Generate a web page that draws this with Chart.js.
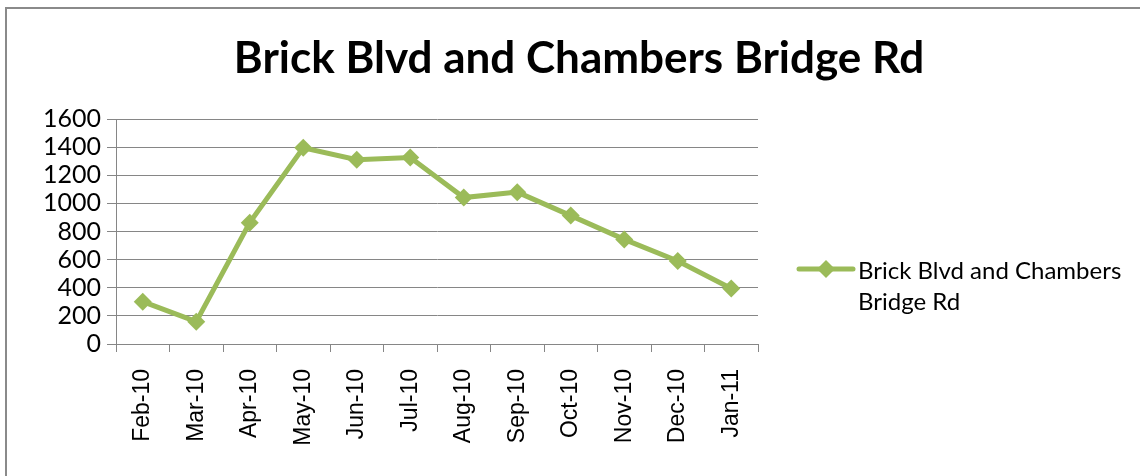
<!DOCTYPE html>
<html>
<head>
<meta charset="utf-8">
<script src="https://cdn.jsdelivr.net/npm/chart.js@4"></script>
<style>
  html, body { margin: 0; padding: 0; background: #fff; overflow: hidden; }
  #wrap { position: relative; width: 1140px; height: 476px; }
  #frame { position: absolute; left: 5px; top: 7px; width: 1200px; height: 520px;
           border-left: 2px solid #8a8a8a; border-top: 2px solid #8a8a8a; }
  canvas { position: absolute; left: 0; top: 0; }
</style>
</head>
<body>
<div id="wrap">
  <div id="frame"></div>
  <canvas id="chart" width="1140" height="476"></canvas>
</div>
<script>
var chartTitle = 'Brick Blvd and Chambers Bridge Rd';
var seriesName = 'Brick Blvd and Chambers Bridge Rd';
var months = ['Feb-10', 'Mar-10', 'Apr-10', 'May-10', 'Jun-10', 'Jul-10',
              'Aug-10', 'Sep-10', 'Oct-10', 'Nov-10', 'Dec-10', 'Jan-11'];
var counts = [301, 159, 863, 1395, 1310, 1326, 1041, 1080, 913, 744, 590, 395];
var yMax = 1600;
var yStep = 200;

var green = '#9BBB59';
var gridGray = '#868686';

// title centred on the whole canvas (the built-in one would centre over the plot only)
var wideTitle = {
    id: 'wideTitle',
    afterDraw: function (chart) {
        var ctx = chart.ctx;
        ctx.save();
        ctx.font = 'bold 44px Lato';
        ctx.fillStyle = '#000';
        ctx.textAlign = 'center';
        ctx.textBaseline = 'alphabetic';
        ctx.fillText(chartTitle, 579, 73);
        ctx.restore();
    }
};

// legend drawn like Excel: line with diamond, text wrapped in two lines
var sideLegend = {
    id: 'sideLegend',
    afterDraw: function (chart) {
        var ctx = chart.ctx;
        var ds = chart.data.datasets[0];
        var x0 = 799, x1 = 853, y = 269;
        ctx.save();
        ctx.strokeStyle = green;
        ctx.lineWidth = 5;
        ctx.lineCap = 'round';
        ctx.beginPath();
        ctx.moveTo(x0, y);
        ctx.lineTo(x1, y);
        ctx.stroke();
        ctx.fillStyle = green;
        ctx.beginPath();
        ctx.moveTo(826, y - 9);
        ctx.lineTo(835, y);
        ctx.lineTo(826, y + 9);
        ctx.lineTo(817, y);
        ctx.closePath();
        ctx.fill();

        ctx.font = '24px Lato';
        ctx.fillStyle = '#000';
        ctx.textBaseline = 'middle';
        var words = ds.label.split(' ');
        var lines = [], cur = '';
        words.forEach(function (w) {
            var test = cur ? cur + ' ' + w : w;
            if (ctx.measureText(test).width > 280 && cur) {
                lines.push(cur);
                cur = w;
            } else {
                cur = test;
            }
        });
        lines.push(cur);
        lines.forEach(function (l, i) {
            ctx.fillText(l, 858, 271 + i * 31);
        });
        ctx.restore();
    }
};

new Chart(document.getElementById('chart'), {
    type: 'line',
    data: {
        labels: months,
        datasets: [{
            label: seriesName,
            data: counts,
            borderColor: green,
            backgroundColor: green,
            borderWidth: 5,
            pointStyle: 'rectRot',
            pointRadius: 9,
            pointHoverRadius: 9,
            pointBorderWidth: 0,
            tension: 0
        }]
    },
    options: {
        responsive: false,
        animation: false,
        layout: { padding: { left: 0, right: 382, top: 119, bottom: 0 } },
        plugins: {
            legend: { display: false },
            tooltip: { enabled: false },
            title: { display: false }
        },
        scales: {
            x: {
                offset: true,
                grid: {
                    offset: true,
                    drawOnChartArea: false,
                    drawTicks: true,
                    tickLength: 8,
                    color: gridGray
                },
                border: { color: gridGray, width: 1 },
                ticks: {
                    minRotation: 90,
                    maxRotation: 90,
                    autoSkip: false,
                    padding: 17,
                    color: '#000',
                    font: { family: 'Liberation Sans', size: 23 }
                },
                afterFit: function (scale) { scale.height = 132; }
            },
            y: {
                min: 0,
                max: yMax,
                grid: {
                    color: gridGray,
                    drawTicks: true,
                    tickLength: 9
                },
                border: { color: gridGray, width: 1 },
                ticks: {
                    stepSize: yStep,
                    autoSkip: false,
                    padding: 6,
                    color: '#000',
                    font: { family: 'Lato', size: 25 },
                    callback: function (v) { return String(v); }
                },
                afterFit: function (scale) { scale.width = 116; }
            }
        }
    },
    plugins: [wideTitle, sideLegend]
});
</script>
</body>
</html>
